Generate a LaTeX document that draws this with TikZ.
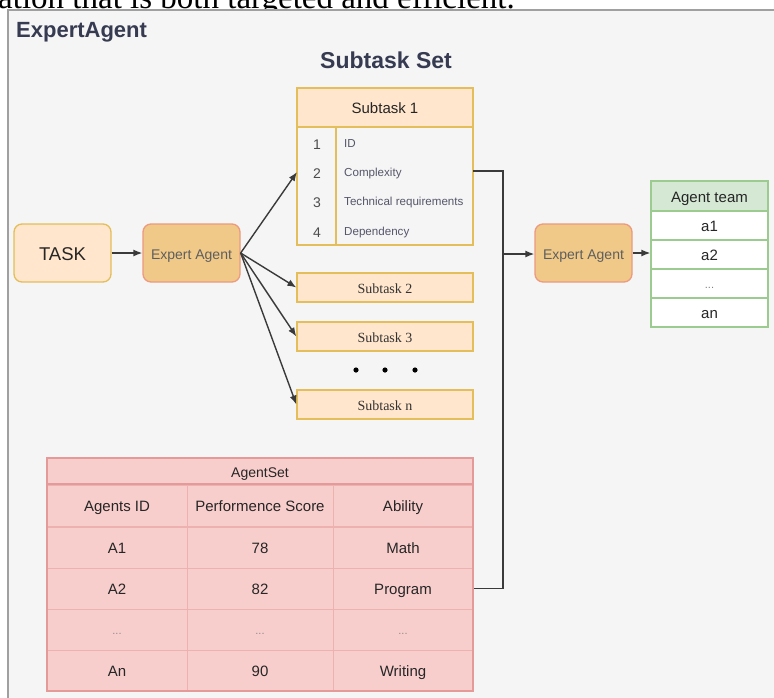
\documentclass[tikz,border=0pt]{standalone}
\usepackage{fontspec}
\setmainfont{Liberation Sans}
\newfontfamily\timesf{Liberation Serif}
\usetikzlibrary{arrows.meta}
\definecolor{bgc}{HTML}{F5F5F5}
\definecolor{framec}{HTML}{A0A0A0}
\definecolor{navy}{HTML}{363B52}
\definecolor{orfill}{HTML}{FFE6CC}
\definecolor{ordraw}{HTML}{E3BE5A}
\definecolor{eafill}{HTML}{F0C988}
\definecolor{eadraw}{HTML}{EC9A80}
\definecolor{eatext}{HTML}{5E5E5E}
\definecolor{listtext}{HTML}{55566A}
\definecolor{grfill}{HTML}{D5E8D4}
\definecolor{grdraw}{HTML}{9CCB8F}
\definecolor{rdfill}{HTML}{F8CECC}
\definecolor{rdin}{HTML}{EDB1AF}
\definecolor{rdout}{HTML}{E39A98}
\definecolor{linec}{HTML}{3A3A3A}
\tikzset{
  px/.style={font=\fontsize{#1}{#1}\selectfont},
  ctr/.style={text depth=0pt, execute at begin node={\rule{0pt}{0.86em}}},
  obox/.style={draw=ordraw, fill=orfill, line width=1.3pt, inner sep=0pt},
  eabox/.style={draw=eadraw, fill=eafill, line width=1.3pt, rounded corners=8pt,
    minimum width=97pt, minimum height=58pt, inner sep=0pt, text=eatext, px=14, ctr},
  taskbox/.style={draw=ordraw, fill=orfill, line width=1.3pt, rounded corners=8pt,
    minimum width=97pt, minimum height=58pt, inner sep=0pt, text=black!85, px=18.5, ctr},
  subbox/.style={obox, minimum width=176pt, minimum height=29pt, font=\timesf\fontsize{14}{14}\selectfont, text=black!80, ctr},
  gcell/.style={draw=grdraw, line width=1.3pt, inner sep=0pt, minimum width=117pt, text=black!85, px=15, ctr},
  rcell/.style={draw=rdin, fill=rdfill, line width=1pt, inner sep=0pt, minimum height=41pt, text=black!85, px=15, ctr},
  arr/.style={draw=linec, line width=1.4pt, -{Latex[length=9pt,width=7pt]}},
  plain/.style={draw=linec, line width=1.4pt},
}
\begin{document}
\begin{tikzpicture}[x=1pt,y=-1pt]
\clip (0,0) rectangle (774,697);
\useasboundingbox (0,0) rectangle (774,697);
\fill[white] (0,0) rectangle (774,697);
\node[anchor=base west, inner sep=0pt, font=\timesf\fontsize{33}{33}\selectfont] (toptext) at (-2,8) {ation that is both targeted and efficient.};
\draw[draw=framec, fill=bgc, line width=1.5pt] (8,10) rectangle (800,720);
\node[anchor=west, inner sep=0pt, text=navy, font=\bfseries\fontsize{22}{22}\selectfont] (title) at (16,32) {ExpertAgent};
\node[inner sep=0pt, text=navy, font=\bfseries\fontsize{23}{23}\selectfont] (sstitle) at (386,60) {Subtask Set};

% Subtask 1
\node[obox, minimum width=176pt, minimum height=39pt, px=15, text=black!85, ctr] (sub1h) at (385,107.5) {Subtask 1};
\node[obox, fill=none, minimum width=176pt, minimum height=118pt] (sub1b) at (385,186) {};
\draw[draw=ordraw, line width=1.3pt] (336,127) -- (336,245);
\foreach \n/\t/\y in {1/ID/143, 2/Complexity/172, 3/Technical requirements/201, 4/Dependency/231}{
  \node[inner sep=0pt, px=14, text=black!70, ctr] (num\n) at (317,\y) {\n};
  \node[inner sep=0pt, anchor=west, px=11.6, text=listtext, ctr] (item\n) at (344,\y) {\t};
}

% Other subtasks
\node[subbox] (sub2) at (385,287.5) {Subtask 2};
\node[subbox] (sub3) at (385,336.5) {Subtask 3};
\node[subbox] (subn) at (385,404.5) {Subtask n};
\foreach \x/\nm in {356/d1,385/d2,415/d3}{\fill (\x,370) circle (2.6pt) coordinate (\nm);}

% Task and expert agents
\node[taskbox] (task) at (62.5,253) {TASK};
\node[eabox] (ea1) at (191.5,253) {Expert Agent};
\node[eabox] (ea2) at (583.5,253) {Expert Agent};

% Agent team
\node[gcell, fill=grfill, minimum height=30pt] (ath) at (709.5,196) {Agent team};
\node[gcell, fill=white, minimum height=29pt] (at1) at (709.5,225.5) {a1};
\node[gcell, fill=white, minimum height=29pt] (at2) at (709.5,254.5) {a2};
\node[gcell, fill=white, minimum height=29pt, text=black!50, px=11] (at3) at (709.5,283.5) {...};
\node[gcell, fill=white, minimum height=29pt] (at4) at (709.5,312.5) {an};

% AgentSet table
\node[rcell, minimum width=426pt, minimum height=26pt, px=14] (ash) at (260,471) {AgentSet};
\foreach \r/\y/\a/\b/\c in {0/505.5/Agents ID/Performence Score/Ability, 1/547.5/A1/78/Math, 2/588.5/A2/82/Program, 4/670.5/An/90/Writing}{
  \node[rcell, minimum width=140pt] (r\r c1) at (117,\y) {\a};
  \node[rcell, minimum width=146pt] (r\r c2) at (260,\y) {\b};
  \node[rcell, minimum width=140pt] (r\r c3) at (403,\y) {\c};
}
\node[rcell, minimum width=140pt, text=black!45, px=11] (r3c1) at (117,629.5) {...};
\node[rcell, minimum width=146pt, text=black!45, px=11] (r3c2) at (260,629.5) {...};
\node[rcell, minimum width=140pt, text=black!45, px=11] (r3c3) at (403,629.5) {...};
\draw[draw=rdout, line width=1.3pt] (47,458) rectangle (473,691);
\draw[draw=rdout, line width=1.3pt] (47,484) -- (473,484);

% Connectors
\coordinate (s1in) at (297,172);
\coordinate (s1out) at (473,171);
\coordinate (jtop) at (503,171);
\coordinate (jmid) at (503,254);
\coordinate (jbot) at (503,588.5);
\draw[arr] (task.east) -- (ea1.west);
\draw[arr] (ea1.east) -- (s1in);
\draw[arr] (ea1.east) -- (sub2.west);
\draw[arr] (ea1.east) -- (sub3.west);
\draw[arr] (ea1.east) -- (subn.west);
\draw[plain] (s1out) -- (jtop) -- (jbot) -- (r2c3.east);
\draw[arr] (jmid) -- (jmid -| ea2.west);
\draw[arr] (ea2.east) -- (ea2.east -| at2.west);
\end{tikzpicture}
\end{document}
